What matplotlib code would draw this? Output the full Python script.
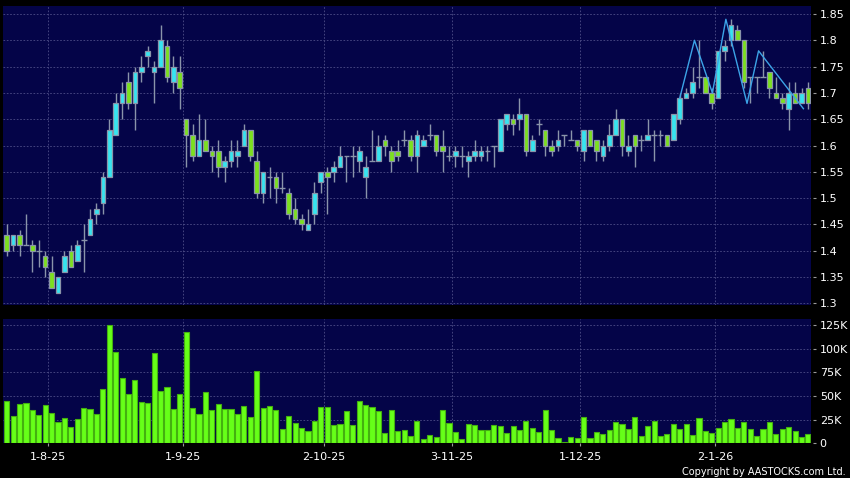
import matplotlib
matplotlib.use("Agg")
import matplotlib.pyplot as plt
import numpy as np

# daily OHLC (index = trading day)
opens = [1.43, 1.41, 1.43, 1.41, 1.41, 1.40, 1.39, 1.36, 1.32, 1.36,
         1.40, 1.38, 1.42, 1.43, 1.47, 1.49, 1.54, 1.62, 1.68, 1.72,
         1.68, 1.74, 1.77, 1.74, 1.75, 1.79, 1.72, 1.74, 1.65, 1.62,
         1.58, 1.61, 1.59, 1.59, 1.56, 1.57, 1.58, 1.60, 1.63, 1.57,
         1.51, 1.54, 1.54, 1.52, 1.51, 1.48, 1.46, 1.44, 1.47, 1.53,
         1.55, 1.55, 1.56, 1.58, 1.58, 1.57, 1.54, 1.57, 1.57, 1.61,
         1.59, 1.59, 1.61, 1.61, 1.58, 1.60, 1.62, 1.62, 1.60, 1.58,
         1.58, 1.58, 1.57, 1.58, 1.58, 1.59, 1.60, 1.59, 1.64, 1.65,
         1.65, 1.66, 1.59, 1.64, 1.63, 1.60, 1.60, 1.62, 1.61, 1.61,
         1.59, 1.63, 1.61, 1.58, 1.60, 1.62, 1.65, 1.59, 1.62, 1.61,
         1.61, 1.62, 1.62, 1.62, 1.61, 1.65, 1.69, 1.70, 1.73, 1.73,
         1.70, 1.69, 1.78, 1.80, 1.82, 1.80, 1.73, 1.73, 1.73, 1.74,
         1.70, 1.69, 1.67, 1.70, 1.68, 1.71]
highs = [1.45, 1.43, 1.44, 1.47, 1.42, 1.42, 1.40, 1.39, 1.35, 1.40,
         1.41, 1.42, 1.45, 1.48, 1.49, 1.55, 1.65, 1.70, 1.72, 1.74,
         1.75, 1.77, 1.79, 1.76, 1.83, 1.80, 1.77, 1.77, 1.65, 1.64,
         1.66, 1.65, 1.60, 1.61, 1.58, 1.61, 1.61, 1.64, 1.63, 1.59,
         1.55, 1.56, 1.55, 1.55, 1.52, 1.50, 1.47, 1.48, 1.53, 1.55,
         1.56, 1.57, 1.60, 1.58, 1.60, 1.60, 1.58, 1.63, 1.62, 1.62,
         1.60, 1.61, 1.63, 1.62, 1.63, 1.62, 1.64, 1.62, 1.63, 1.60,
         1.60, 1.60, 1.59, 1.61, 1.60, 1.60, 1.60, 1.65, 1.66, 1.66,
         1.69, 1.66, 1.62, 1.65, 1.63, 1.61, 1.63, 1.62, 1.63, 1.61,
         1.63, 1.63, 1.61, 1.61, 1.64, 1.67, 1.65, 1.62, 1.62, 1.62,
         1.65, 1.63, 1.63, 1.62, 1.66, 1.70, 1.71, 1.75, 1.80, 1.73,
         1.71, 1.78, 1.80, 1.84, 1.83, 1.80, 1.73, 1.73, 1.78, 1.74,
         1.73, 1.70, 1.72, 1.72, 1.71, 1.72]
lows = [1.39, 1.40, 1.39, 1.41, 1.36, 1.37, 1.35, 1.33, 1.32, 1.36,
        1.37, 1.38, 1.36, 1.43, 1.45, 1.47, 1.54, 1.62, 1.65, 1.67,
        1.63, 1.72, 1.75, 1.68, 1.75, 1.72, 1.70, 1.67, 1.56, 1.57,
        1.58, 1.59, 1.55, 1.54, 1.53, 1.56, 1.56, 1.60, 1.57, 1.50,
        1.49, 1.50, 1.49, 1.51, 1.46, 1.45, 1.44, 1.44, 1.45, 1.51,
        1.47, 1.53, 1.56, 1.53, 1.54, 1.55, 1.50, 1.57, 1.57, 1.58,
        1.55, 1.57, 1.60, 1.57, 1.55, 1.60, 1.61, 1.58, 1.55, 1.57,
        1.56, 1.56, 1.54, 1.57, 1.57, 1.57, 1.56, 1.59, 1.63, 1.62,
        1.63, 1.58, 1.59, 1.62, 1.58, 1.58, 1.59, 1.60, 1.61, 1.59,
        1.57, 1.60, 1.57, 1.57, 1.59, 1.62, 1.58, 1.58, 1.56, 1.59,
        1.61, 1.57, 1.60, 1.60, 1.61, 1.64, 1.69, 1.69, 1.71, 1.70,
        1.67, 1.69, 1.76, 1.79, 1.80, 1.71, 1.68, 1.70, 1.73, 1.69,
        1.69, 1.67, 1.63, 1.68, 1.68, 1.67]
closes = [1.40, 1.43, 1.41, 1.41, 1.40, 1.40, 1.37, 1.33, 1.35, 1.39,
          1.37, 1.41, 1.42, 1.46, 1.48, 1.54, 1.63, 1.68, 1.70, 1.68,
          1.74, 1.75, 1.78, 1.75, 1.80, 1.73, 1.75, 1.71, 1.62, 1.58,
          1.61, 1.59, 1.58, 1.56, 1.57, 1.59, 1.59, 1.63, 1.58, 1.51,
          1.55, 1.54, 1.52, 1.52, 1.47, 1.46, 1.45, 1.45, 1.51, 1.55,
          1.54, 1.56, 1.58, 1.58, 1.58, 1.59, 1.56, 1.57, 1.60, 1.60,
          1.57, 1.58, 1.61, 1.58, 1.62, 1.61, 1.62, 1.59, 1.59, 1.58,
          1.59, 1.58, 1.58, 1.59, 1.59, 1.59, 1.60, 1.65, 1.66, 1.64,
          1.66, 1.59, 1.61, 1.64, 1.60, 1.59, 1.61, 1.62, 1.61, 1.60,
          1.63, 1.60, 1.59, 1.60, 1.62, 1.65, 1.60, 1.60, 1.60, 1.61,
          1.62, 1.62, 1.62, 1.60, 1.66, 1.69, 1.70, 1.72, 1.73, 1.70,
          1.68, 1.78, 1.79, 1.83, 1.80, 1.72, 1.73, 1.73, 1.73, 1.71,
          1.69, 1.68, 1.70, 1.68, 1.70, 1.68]

# volume in thousands of shares
volumes = [45, 28.5, 41.5, 42.6, 35, 29.6, 40.8, 32.4, 23, 26.8,
           17.3, 25.4, 37, 36, 31, 57, 124.6, 96, 69.4, 52.5,
           67, 43.7, 42.3, 95.4, 55, 60, 36, 52, 117.6, 37,
           31, 54.6, 35.2, 41.5, 36, 36.6, 30.6, 40, 27.8, 76,
           37.3, 40, 35.6, 15.8, 28.5, 21.8, 16.5, 13, 24, 38.4,
           38.7, 19, 20.4, 34.5, 19.7, 44.4, 40.5, 38.4, 33.8, 10.9,
           35.2, 13.4, 14.1, 8.1, 24, 5, 8.5, 6.7, 35, 22,
           12, 5, 20.4, 19, 14, 14, 20, 18, 11, 18.7,
           13.7, 23.6, 16, 12.3, 35, 14, 6.3, 2, 6.7, 6.3,
           27.5, 5.6, 11.6, 10, 14.4, 22.5, 20.8, 14.8, 27.5, 7.7,
           18.7, 24, 7.7, 9.5, 21, 15.5, 21, 9.2, 27, 13,
           10.6, 16.5, 22.5, 26, 16, 22.5, 15, 8, 15.8, 23,
           9.9, 15.5, 17, 12.7, 6.7, 9.9]

# thin overlay line on the latest weeks
zigzag_idx = [105, 107.3, 110.1, 112.2, 115.5, 117.3, 124.3]
zigzag_val = [1.69, 1.80, 1.70, 1.84, 1.68, 1.78, 1.67]

date_idx = [6, 27, 49, 69, 89, 110]
date_labels = ["1-8-25", "1-9-25", "2-10-25", "3-11-25", "1-12-25", "2-1-26"]

price_ticks = [1.3, 1.35, 1.4, 1.45, 1.5, 1.55, 1.6, 1.65, 1.7, 1.75, 1.8, 1.85]
vol_ticks = [0, 25, 50, 75, 100, 125]
vol_labels = ["0", "25K", "50K", "75K", "100K", "125K"]

navy = "#040448"
up_col = "#36e4f0"
down_col = "#7ce01e"
edge_col = "#8a94aa"
grid_col = "#4e4e88"

o = np.array(opens); h = np.array(highs); l = np.array(lows); c = np.array(closes)
x = np.arange(len(o))

fig = plt.figure(figsize=(8.5, 4.78), dpi=100, facecolor="black")
ax = fig.add_axes([0.00353, 0.3619, 0.9502, 0.6255], facecolor=navy)
axv = fig.add_axes([0.00353, 0.0722, 0.9502, 0.2605], facecolor=navy)

# wicks
ax.vlines(x, l, h, color=edge_col, lw=1.0, zorder=2)
# bodies
up = c > o
down = c < o
flat = c == o
w = 0.72
ax.bar(x[up], (c - o)[up], bottom=o[up], width=w, color=up_col,
       edgecolor=edge_col, linewidth=0.9, zorder=3)
ax.bar(x[down], (o - c)[down], bottom=c[down], width=w, color=down_col,
       edgecolor=edge_col, linewidth=0.9, zorder=3)
ax.hlines(o[flat], x[flat] - 0.45, x[flat] + 0.45, color=edge_col, lw=1.0, zorder=3)

ax.plot(zigzag_idx, zigzag_val, color="#3ca4e8", lw=1.0, zorder=4)

xmin, xmax = -0.58, 125.43
ax.set_xlim(xmin, xmax)
ax.set_ylim(1.2968, 1.8652)

axv.bar(x, volumes, width=0.8, color="#66ff18", edgecolor="#44b010",
        linewidth=0.8, zorder=3)
axv.set_xlim(xmin, xmax)
axv.set_ylim(0, 131.3)

for a in (ax, axv):
    for s in a.spines.values():
        s.set_visible(False)
    a.spines["right"].set_position(("outward", 2))
    a.yaxis.tick_right()
    a.tick_params(axis="y", colors="#9a9a9a", labelcolor="white", length=2.5,
                  width=0.8, pad=2, labelsize=8)
    a.set_xticks(np.array(date_idx) + 0.5)
    a.grid(True, color=grid_col, linestyle=(0, (2, 2)), linewidth=0.6, zorder=0)
    a.set_axisbelow(True)

ax.set_yticks(price_ticks)
ax.set_yticklabels([f"{t:g}" for t in price_ticks])
ax.tick_params(axis="x", length=0, labelbottom=False)

axv.set_yticks(vol_ticks)
axv.set_yticklabels(vol_labels)
axv.set_xticklabels(date_labels)
axv.tick_params(axis="x", colors="#9a9a9a", labelcolor="white", length=2.5,
                width=0.8, pad=3.5, labelsize=8)

fig.text(0.9953, 1 - 471.7 / 478, "Copyright by AASTOCKS.com Ltd.", color="white",
         fontsize=7, ha="right", va="center")

fig.savefig("out.png", dpi=100, facecolor="black")
